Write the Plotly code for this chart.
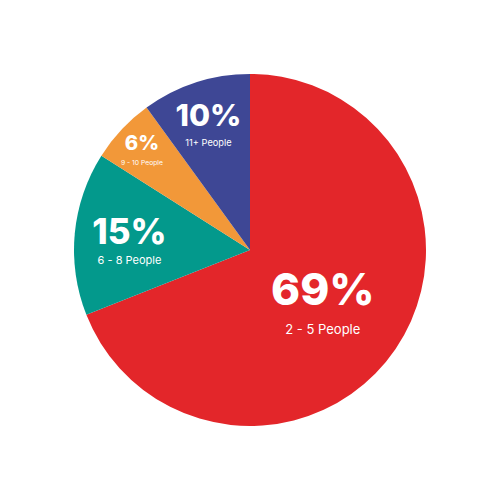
import plotly.graph_objects as go

# household size share
LABELS = ["2 - 5 People", "6 - 8 People", "9 - 10 People", "11+ People"]
VALUES = [69, 15, 6, 10]
PCT_TEXT = ["69%", "15%", "6%", "10%"]
COLORS = ["#E3262A", "#03998C", "#F29839", "#3E4795"]
PCT_SIZES = [44, 35, 21, 33]
LABEL_SIZES = [13, 11, 7, 10]
LINE_SIZES = [23, 15, 12, 16]  # base font size, sets gap between the two lines

texts = [
    "<span style='font-size:%dpx;font-weight:800'>%s</span><br>"
    "<span style='font-size:%dpx'>%s</span>" % (ps, p, ls, l)
    for p, ps, ls, l in zip(PCT_TEXT, PCT_SIZES, LABEL_SIZES, LABELS)
]

fig = go.Figure(
    go.Pie(
        labels=LABELS,
        values=VALUES,
        text=texts,
        texttemplate="%{text}",
        textposition="inside",
        insidetextorientation="horizontal",
        sort=False,
        direction="clockwise",
        marker=dict(colors=COLORS, line=dict(width=0)),
        textfont=dict(family="Inter", color="white", size=LINE_SIZES),
        hoverinfo="label+percent",
        domain=dict(x=[0.132, 0.836], y=[0.164, 0.868]),
    )
)
fig.update_layout(
    width=500,
    height=500,
    margin=dict(l=0, r=0, t=0, b=0),
    showlegend=False,
    paper_bgcolor="white",
    plot_bgcolor="white",
)
fig.write_html("out.html")
